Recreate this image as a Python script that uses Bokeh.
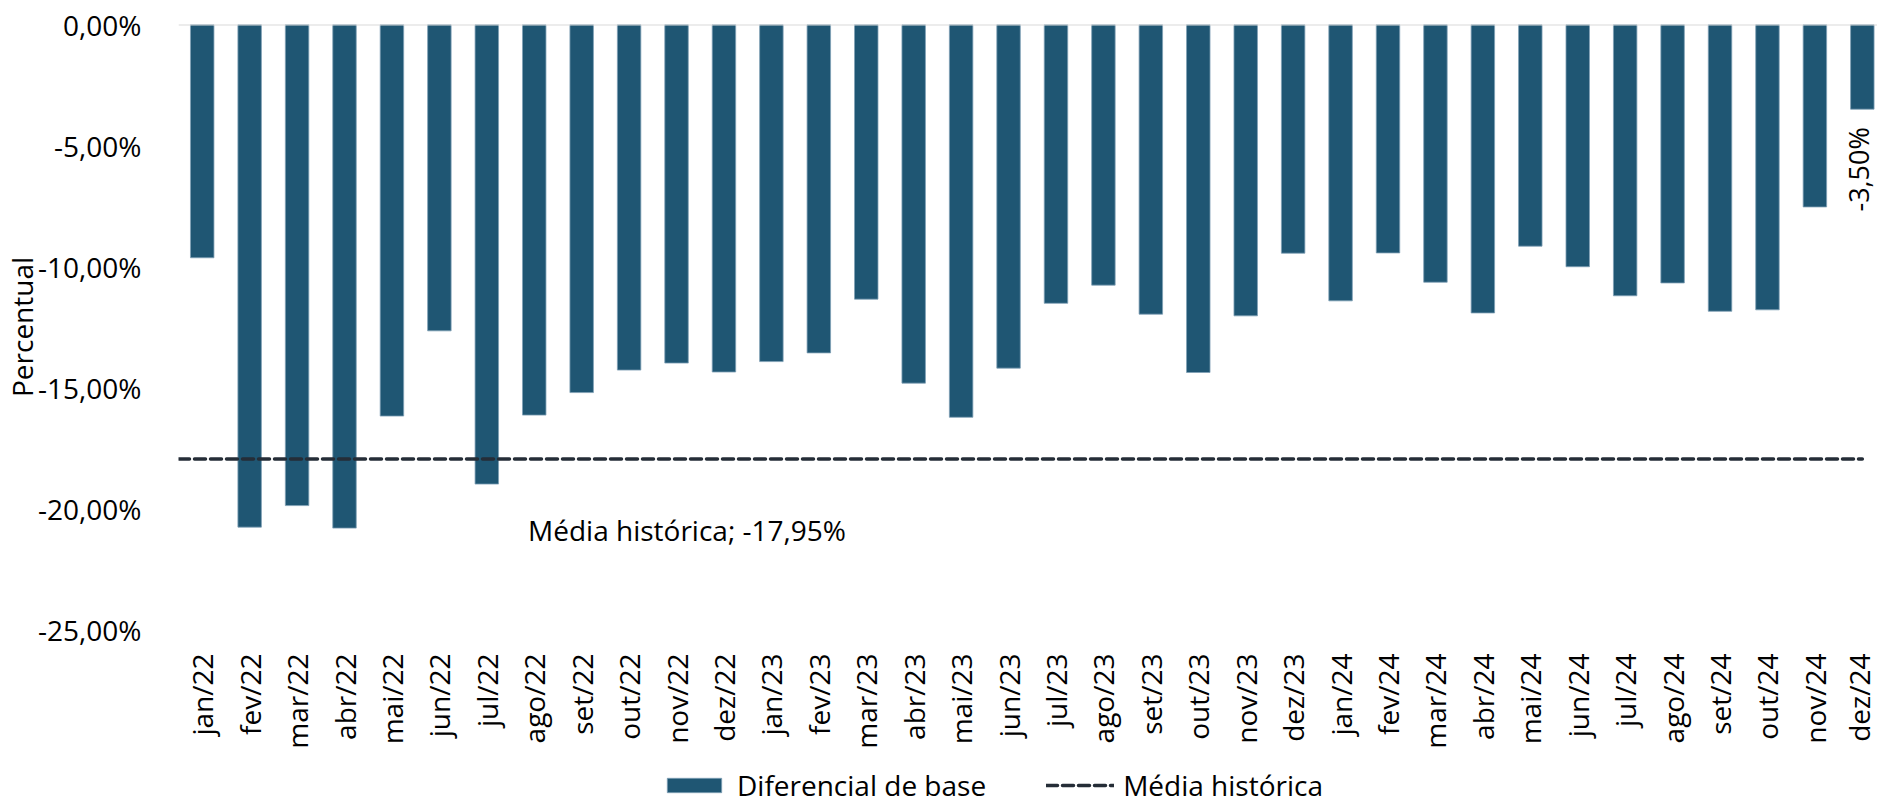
from math import pi
from bokeh.plotting import figure
from bokeh.layouts import column
from bokeh.models import (Range1d, FixedTicker, CustomJSTickFormatter, Span, Legend,
                          LegendItem, ColumnDataSource)
from bokeh.core.properties import value
from bokeh.embed import file_html
from bokeh.resources import INLINE

# ---------------- data ----------------
months = ["jan/22", "fev/22", "mar/22", "abr/22", "mai/22", "jun/22", "jul/22", "ago/22",
          "set/22", "out/22", "nov/22", "dez/22", "jan/23", "fev/23", "mar/23", "abr/23",
          "mai/23", "jun/23", "jul/23", "ago/23", "set/23", "out/23", "nov/23", "dez/23",
          "jan/24", "fev/24", "mar/24", "abr/24", "mai/24", "jun/24", "jul/24", "ago/24",
          "set/24", "out/24", "nov/24", "dez/24"]
diferencial = [-9.64, -20.77, -19.88, -20.81, -16.18, -12.66, -18.99, -16.14,
               -15.21, -14.28, -13.99, -14.36, -13.93, -13.57, -11.35, -14.82,
               -16.23, -14.20, -11.52, -10.77, -11.97, -14.38, -12.04, -9.45,
               -11.42, -9.44, -10.65, -11.92, -9.16, -10.01, -11.21, -10.68,
               -11.85, -11.79, -7.54, -3.50]
media_historica = -17.95
y_ticks = [0, -5, -10, -15, -20, -25]
media_label = "Média histórica; -17,95%"
last_label = "-3,50%"
series_names = ["Diferencial de base", "Média histórica"]
y_title = "Percentual"

# ---------------- style ----------------
FONT = "Open Sans"
BAR = "#1F5673"
BAR_EDGE = "#7F9FB5"
LINE = "#252D37"
TXT = "#000000"
FS = "28px"
W = 1877

x = list(range(len(months)))
src = ColumnDataSource(dict(x=x, top=diferencial))

p = figure(width=W, height=752, output_backend="svg", toolbar_location=None,
           x_range=Range1d(-0.5, len(months) - 0.68), y_range=Range1d(min(y_ticks), max(y_ticks)),
           min_border_left=176, min_border_right=0, min_border_top=24, min_border_bottom=123)
p.outline_line_color = None
p.xgrid.visible = False
p.ygrid.visible = False

p.add_layout(Span(location=0, dimension="width", line_color="#D9D9D9", line_width=2))

bar_style = dict(fill_color=BAR, line_color=BAR_EDGE, line_width=0.8)
line_style = dict(line_color=LINE, line_width=3.5, line_dash="11 5", line_cap="round")

p.vbar(x="x", top="top", bottom=0, width=0.495, source=src, **bar_style)
p.line(x=[-0.5, len(months) - 1], y=[media_historica, media_historica], **line_style)

# y axis
p.yaxis.ticker = FixedTicker(ticks=y_ticks)
p.yaxis.formatter = CustomJSTickFormatter(
    code="return Math.abs(tick) < 1e-9 ? '0,00%' : tick.toFixed(2).replace('.', ',') + '%';")
p.yaxis.axis_line_color = None
p.yaxis.major_tick_line_color = None
p.yaxis.minor_tick_line_color = None
p.yaxis.major_label_standoff = 31
p.yaxis.major_label_text_font = FONT
p.yaxis.major_label_text_font_size = FS
p.yaxis.major_label_text_color = TXT
p.yaxis.axis_label = y_title
p.yaxis.axis_label_text_font = FONT
p.yaxis.axis_label_text_font_size = FS
p.yaxis.axis_label_text_font_style = "normal"
p.yaxis.axis_label_text_color = TXT
p.yaxis.axis_label_standoff = -6

# x axis
p.xaxis.ticker = FixedTicker(ticks=x)
p.xaxis.major_label_overrides = {i: m for i, m in zip(x, months)}
p.xaxis.major_label_orientation = pi / 2
p.xaxis.axis_line_color = None
p.xaxis.major_tick_line_color = None
p.xaxis.minor_tick_line_color = None
p.xaxis.major_label_standoff = 18
p.xaxis.major_label_text_font = FONT
p.xaxis.major_label_text_font_size = FS
p.xaxis.major_label_text_color = TXT

# annotations
p.text(x=[x[-1]], y=[diferencial[-1]], text=[last_label], angle=pi / 2,
       text_align="right", text_baseline="middle", y_offset=18, x_offset=-4,
       text_font=value(FONT), text_font_size="27px", text_color=TXT)
p.text(x=[6.87], y=[media_historica - 2.95], text=[media_label],
       text_align="left", text_baseline="middle",
       text_font=value(FONT), text_font_size=FS, text_color=TXT)

# legend strip (key glyphs only; their dummy data lies outside the visible range)
lf = figure(width=W, height=52, output_backend="svg", toolbar_location=None,
            x_range=Range1d(0, 1), y_range=Range1d(0, 1), min_border=0)
lf.axis.visible = False
lf.grid.visible = False
lf.outline_line_color = None
r_bar = lf.vbar(x=[-5], top=[-4], bottom=-5, width=0.1, **bar_style)
r_line = lf.line(x=[-5, -4], y=[-5, -5], **line_style)
legend = Legend(items=[LegendItem(label=series_names[0], renderers=[r_bar]),
                       LegendItem(label=series_names[1], renderers=[r_line])],
                location=(482, 0), orientation="horizontal",
                glyph_width=68, glyph_height=18, label_standoff=9, spacing=60,
                padding=0, margin=0, border_line_color=None, background_fill_alpha=0,
                label_text_font=FONT, label_text_font_size=FS, label_text_color=TXT)
lf.add_layout(legend, "center")

layout = column(p, lf, spacing=0)
open("out.html", "w").write(file_html(layout, INLINE))
